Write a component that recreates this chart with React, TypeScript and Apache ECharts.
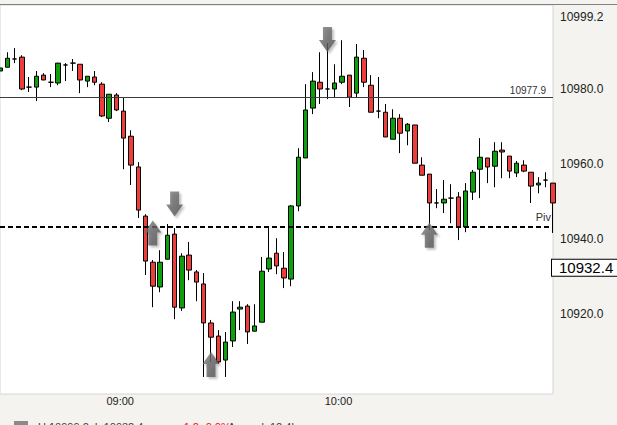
import React, { useEffect, useRef } from 'react';
import * as echarts from 'echarts';

// 2-minute bars
const times: string[] = [
  '08:26', '08:28', '08:30', '08:32', '08:34', '08:36', '08:38', '08:40', '08:42', '08:44',
  '08:46', '08:48', '08:50', '08:52', '08:54', '08:56', '08:58', '09:00', '09:02', '09:04',
  '09:06', '09:08', '09:10', '09:12', '09:14', '09:16', '09:18', '09:20', '09:22', '09:24',
  '09:26', '09:28', '09:30', '09:32', '09:34', '09:36', '09:38', '09:40', '09:42', '09:44',
  '09:46', '09:48', '09:50', '09:52', '09:54', '09:56', '09:58', '10:00', '10:02', '10:04',
  '10:06', '10:08', '10:10', '10:12', '10:14', '10:16', '10:18', '10:20', '10:22', '10:24',
  '10:26', '10:28', '10:30', '10:32', '10:34', '10:36', '10:38', '10:40', '10:42', '10:44',
  '10:46', '10:48', '10:50', '10:52', '10:54', '10:56', '10:58',
];

const xTickLabels: string[] = ['09:00', '10:00'];

// [open, close, low, high]
const candles: number[][] = [
  [10984.9, 10985.7, 10984.3, 10986.2],
  [10985.9, 10988.3, 10985.9, 10989.9],
  [10988.1, 10988.1, 10987.0, 10991.0],
  [10988.6, 10980.1, 10979.8, 10989.1],
  [10980.6, 10980.6, 10979.3, 10983.3],
  [10980.6, 10983.5, 10976.9, 10984.9],
  [10983.8, 10982.5, 10982.5, 10984.3],
  [10981.9, 10981.9, 10980.6, 10984.1],
  [10981.7, 10987.0, 10981.1, 10987.0],
  [10986.5, 10986.5, 10982.2, 10987.0],
  [10987.0, 10987.0, 10984.9, 10988.1],
  [10986.7, 10982.5, 10979.0, 10986.7],
  [10982.2, 10983.5, 10980.6, 10983.5],
  [10983.3, 10981.9, 10981.1, 10984.9],
  [10981.4, 10972.9, 10972.6, 10981.9],
  [10972.3, 10978.7, 10971.3, 10978.7],
  [10978.5, 10974.5, 10974.2, 10979.0],
  [10974.2, 10967.0, 10958.7, 10977.7],
  [10967.5, 10959.8, 10954.5, 10969.1],
  [10959.3, 10947.8, 10945.7, 10960.6],
  [10946.2, 10934.2, 10930.5, 10946.7],
  [10933.9, 10927.5, 10921.9, 10934.5],
  [10927.3, 10933.9, 10925.9, 10937.1],
  [10934.7, 10941.1, 10934.7, 10944.1],
  [10941.4, 10921.9, 10918.7, 10943.0],
  [10921.7, 10935.5, 10920.9, 10936.3],
  [10935.8, 10931.8, 10929.1, 10939.3],
  [10931.3, 10928.6, 10923.5, 10931.8],
  [10928.1, 10917.7, 10903.3, 10931.0],
  [10917.7, 10913.9, 10907.3, 10918.5],
  [10914.2, 10907.3, 10906.8, 10915.8],
  [10907.8, 10912.6, 10903.3, 10915.3],
  [10912.9, 10920.6, 10911.3, 10923.5],
  [10921.4, 10921.9, 10915.8, 10923.5],
  [10922.2, 10915.3, 10912.1, 10922.7],
  [10915.5, 10916.9, 10915.5, 10922.7],
  [10917.9, 10931.5, 10917.9, 10935.3],
  [10932.1, 10935.0, 10931.3, 10943.3],
  [10936.3, 10932.9, 10930.7, 10940.3],
  [10932.3, 10929.7, 10927.0, 10936.6],
  [10929.4, 10948.9, 10927.5, 10949.1],
  [10948.9, 10961.9, 10947.5, 10964.3],
  [10961.7, 10974.5, 10961.7, 10981.4],
  [10975.0, 10982.2, 10973.4, 10984.6],
  [10981.9, 10980.1, 10976.1, 10989.9],
  [10980.1, 10980.1, 10977.4, 10992.3],
  [10980.1, 10981.7, 10977.9, 10986.7],
  [10981.9, 10983.5, 10981.4, 10993.1],
  [10983.8, 10977.9, 10975.3, 10983.8],
  [10979.0, 10988.6, 10977.9, 10992.1],
  [10988.3, 10981.9, 10980.6, 10990.5],
  [10981.1, 10973.9, 10973.9, 10983.8],
  [10974.2, 10974.2, 10972.3, 10983.3],
  [10973.9, 10967.3, 10967.3, 10976.1],
  [10966.7, 10972.3, 10966.7, 10974.7],
  [10972.3, 10968.3, 10963.0, 10973.4],
  [10968.9, 10970.7, 10965.1, 10971.0],
  [10970.5, 10960.3, 10960.3, 10970.5],
  [10959.8, 10957.1, 10957.1, 10961.9],
  [10957.4, 10949.7, 10942.5, 10957.4],
  [10949.7, 10949.7, 10948.3, 10953.4],
  [10949.7, 10950.7, 10947.0, 10955.8],
  [10951.0, 10951.0, 10944.3, 10954.7],
  [10951.3, 10943.3, 10939.8, 10952.6],
  [10943.3, 10952.9, 10941.9, 10955.0],
  [10952.6, 10957.9, 10950.5, 10958.5],
  [10958.7, 10961.9, 10951.0, 10967.0],
  [10961.7, 10959.3, 10955.0, 10961.7],
  [10959.5, 10963.5, 10953.9, 10965.9],
  [10963.8, 10963.3, 10956.3, 10965.9],
  [10962.2, 10958.2, 10956.3, 10962.2],
  [10957.7, 10960.3, 10956.6, 10960.9],
  [10959.8, 10958.2, 10957.9, 10961.1],
  [10957.9, 10954.2, 10949.7, 10957.9],
  [10954.5, 10955.0, 10952.3, 10956.6],
  [10955.8, 10955.8, 10953.9, 10957.9],
  [10955.0, 10949.7, 10941.7, 10955.0],
];

const yLabelValues: number[] = [10920, 10940, 10960, 10980, 10999.2];
const yMin = 10898.75;
const yMax = 11002.5;

const resistanceLevel = 10977.9;
const pivotLevel = 10943.4;
const pivotLabel = 'Piv';
const lastPrice = 10932.4;

// [category index, price] of annotation arrows
const downArrows: number[][] = [[44.7, 10993.3], [24.0, 10949.4]];
const upArrows: number[][] = [[21.4, 10941.7], [28.6, 10906.6], [59.2, 10941.1]];

const FONT = '"Liberation Sans", Arial, sans-serif';
const UP = '#0ca10c';
const DOWN = '#ef3e3a';

const DOWN_PATH = 'path://M4,0 L13,0 L13,13 L17,13 L8.5,25 L0,13 L4,13 Z';
const UP_PATH = 'path://M8.5,0 L17,12 L13,12 L13,25 L4,25 L4,12 L0,12 Z';

export default function App() {
  const ref = useRef<HTMLDivElement>(null);

  useEffect(() => {
    if (!ref.current) return;
    const chart = echarts.init(ref.current, undefined, { renderer: 'svg' });
    const arrowStyle = {
      color: new echarts.graphic.LinearGradient(0, 0, 1, 1, [
        { offset: 0, color: '#7a7a7a' },
        { offset: 1, color: '#4e4e4e' },
      ]),
      shadowColor: 'rgba(0,0,0,0.3)',
      shadowBlur: 2,
      shadowOffsetX: 2,
      shadowOffsetY: 2,
    };
    const option: any = {
      animation: false,
      backgroundColor: 'transparent',
      grid: {
        left: 0,
        top: 5,
        width: 553,
        height: 389,
        show: true,
        backgroundColor: '#ffffff',
        borderColor: '#d6d6d6',
        borderWidth: 1,
        containLabel: false,
        outerBoundsMode: 'none',
      },
      xAxis: {
        type: 'category',
        data: times,
        boundaryGap: false,
        axisLine: { show: false },
        axisTick: { show: false },
        splitLine: { show: false },
        axisLabel: {
          interval: (_i: number, v: string) => xTickLabels.includes(v),
          formatter: (v: string) => '{t|' + v + '}',
          rich: {
            t: {
              color: '#222',
              fontSize: 11,
              fontFamily: FONT,
              padding: [0, 7, 0, 0],
            },
          },
          margin: 1,
        },
      },
      yAxis: {
        type: 'value',
        position: 'right',
        min: yMin,
        max: yMax,
        axisLine: { show: false },
        axisTick: { show: false },
        splitLine: { show: false },
        axisLabel: {
          customValues: yLabelValues,
          formatter: (v: number) => v.toFixed(1),
          color: '#222',
          fontSize: 12,
          fontFamily: FONT,
          margin: 7,
        },
      },
      series: [
        {
          type: 'candlestick',
          data: candles,
          barWidth: 5,
          clip: true,
          itemStyle: {
            color: UP,
            color0: DOWN,
            borderColor: '#000',
            borderColor0: '#000',
            borderColorDoji: '#000',
            borderWidth: 1,
          },
          markLine: {
            symbol: ['none', 'none'],
            silent: true,
            animation: false,
            data: [
              {
                yAxis: resistanceLevel,
                lineStyle: { color: '#3c3c3c', width: 1, type: 'solid' },
                label: {
                  show: true,
                  position: 'insideEndTop',
                  formatter: resistanceLevel.toFixed(1),
                  fontSize: 10,
                  fontFamily: FONT,
                  color: '#333',
                  distance: [7, 2],
                },
              },
              {
                yAxis: pivotLevel,
                lineStyle: { color: '#000', width: 2, type: [5, 3] },
                label: {
                  show: true,
                  position: 'insideEndTop',
                  formatter: pivotLabel,
                  fontSize: 11,
                  fontFamily: FONT,
                  color: '#333',
                  distance: [2, 4],
                },
              },
            ],
          },
        },
        {
          type: 'line',
          data: [],
          silent: true,
          markLine: {
            symbol: ['none', 'none'],
            silent: true,
            animation: false,
            lineStyle: { color: 'rgba(0,0,0,0)', width: 1 },
            label: {
              show: true,
              position: 'end',
              formatter: lastPrice.toFixed(1),
              fontSize: 15,
              lineHeight: 15,
              fontFamily: FONT,
              color: '#000',
              backgroundColor: '#fff',
              borderColor: '#000',
              borderWidth: 1,
              padding: [1, 12, 0, 7],
              distance: -1,
            },
            data: [{ yAxis: lastPrice }],
          },
        },
        {
          type: 'scatter',
          data: downArrows,
          symbol: DOWN_PATH,
          symbolSize: [17, 25],
          itemStyle: arrowStyle,
          z: 5,
          silent: true,
        },
        {
          type: 'scatter',
          data: upArrows,
          symbol: UP_PATH,
          symbolSize: [17, 25],
          itemStyle: arrowStyle,
          z: 5,
          silent: true,
        },
      ],
      graphic: [
        {
          type: 'line',
          shape: { x1: 0, y1: 4.5, x2: 617, y2: 4.5 },
          style: { stroke: '#808080', lineWidth: 1 },
          z: 50,
        },
        {
          type: 'rect',
          shape: { x: 14, y: 421, width: 14, height: 10 },
          style: { fill: '#8a8a8a' },
        },
        {
          type: 'text',
          x: 38,
          y: 421,
          style: {
            text: 'H 10999.2  L 10932.4',
            fill: '#444',
            fontSize: 11,
            fontFamily: FONT,
            verticalAlign: 'top',
          },
        },
        {
          type: 'text',
          x: 180,
          y: 421,
          style: {
            text: '-1.2 -0.0%',
            fill: '#e02020',
            fontSize: 11,
            fontFamily: FONT,
            verticalAlign: 'top',
          },
        },
        {
          type: 'text',
          x: 228,
          y: 421,
          style: {
            text: 'Avg vol: 12.4k',
            fill: '#444',
            fontSize: 11,
            fontFamily: FONT,
            verticalAlign: 'top',
          },
        },
      ],
    };
    chart.setOption(option);
    return () => chart.dispose();
  }, []);

  return (
    <div
      style={{
        position: 'absolute',
        left: 0,
        top: 0,
        width: 617,
        height: 425,
        background: '#F4F3EF',
        overflow: 'hidden',
      }}
    >
      <div ref={ref} style={{ width: 617, height: 425 }} />
    </div>
  );
}
